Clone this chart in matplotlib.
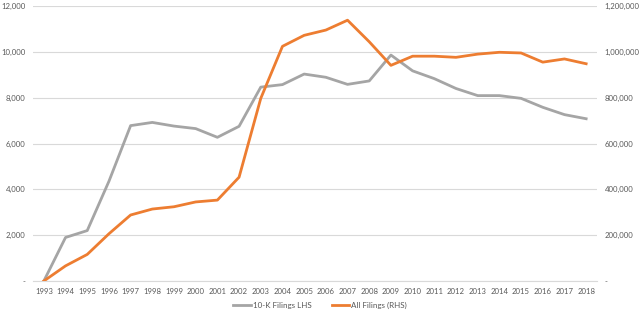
import matplotlib
matplotlib.use("Agg")
import matplotlib.pyplot as plt
from matplotlib.ticker import FuncFormatter

# data
years = list(range(1993, 2019))
tenk_filings = [0, 1900, 2200, 4350, 6780, 6920, 6760, 6650, 6270, 6750,
                8460, 8570, 9030, 8890, 8580, 8730, 9860, 9170, 8830, 8400,
                8090, 8090, 7970, 7580, 7260, 7080]
all_filings = [0, 66000, 116000, 206000, 288000, 314000, 324000, 345000, 353000, 453000,
               797000, 1024000, 1072000, 1095000, 1138000, 1044000, 941000, 981000, 981000, 976000,
               990000, 998000, 995000, 955000, 969000, 948000]

GRAY = "#A5A5A5"
ORANGE = "#ED7D31"
TEXT = "#595959"
GRID = "#D9D9D9"

plt.rcParams["font.family"] = ["Lato", "DejaVu Sans"]


def acct(v, pos):
    # Excel accounting style: zero shown as a dash
    if v == 0:
        return "-"
    return f"{v:,.0f}"


fig = plt.figure(figsize=(6.4, 3.15), dpi=100)
ax = fig.add_axes([33 / 640, 1 - 281 / 315, 564 / 640, 275 / 315])
ax2 = ax.twinx()

l1, = ax.plot(years, tenk_filings, color=GRAY, lw=2, label="10-K Filings LHS")
l2, = ax2.plot(years, all_filings, color=ORANGE, lw=2, label="All Filings (RHS)")

ax.set_xlim(1992.5, 2018.5)
ax.set_ylim(0, 12000)
ax2.set_ylim(0, 1200000)
ax.set_yticks(range(0, 12001, 2000))
ax2.set_yticks(range(0, 1200001, 200000))
ax.yaxis.set_major_formatter(FuncFormatter(acct))
ax2.yaxis.set_major_formatter(FuncFormatter(acct))
ax.set_xticks(years)
ax.set_xticklabels([str(y) for y in years])

ax.grid(axis="y", color=GRID, lw=0.8)
ax.set_axisbelow(True)
for a in (ax, ax2):
    for s in a.spines.values():
        s.set_visible(False)
    a.tick_params(length=0, labelsize=5.6, colors=TEXT)
ax.spines["bottom"].set_visible(True)
ax.spines["bottom"].set_color(GRID)
ax.tick_params(axis="y", pad=5.5)
ax2.tick_params(axis="y", pad=5.5)
ax.tick_params(axis="x", pad=5)

fig.legend(handles=[l1, l2], loc="lower center", bbox_to_anchor=(0.5, -0.005),
           ncol=2, frameon=False, fontsize=5.8, labelcolor=TEXT,
           handlelength=2.2, handletextpad=0.2, columnspacing=2.5)

fig.savefig("out.png", dpi=100)
